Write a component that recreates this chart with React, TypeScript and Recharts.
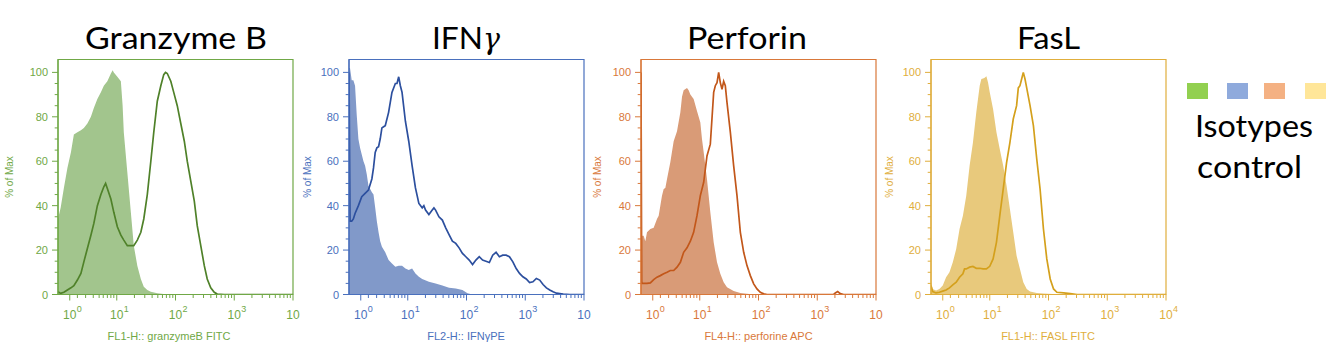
import React from 'react';
import { ComposedChart, Area, Line, XAxis, YAxis, ReferenceArea } from 'recharts';

type Pt = [number, number];

// x = display channel position (0..4, decade positions), y = % of Max
const GZB_ISO: Pt[] = [[0,34],[0.045,39],[0.10,48],[0.16,57],[0.22,64],[0.27,72],[0.33,73],[0.39,74],[0.44,75],[0.50,77],[0.56,80],[0.61,84],[0.67,88],[0.73,91],[0.78,94],[0.84,96],[0.90,99.5],[0.93,101],[0.95,100],[1.01,98],[1.07,96],[1.10,85],[1.12,73],[1.18,55],[1.24,37],[1.29,22],[1.35,13],[1.41,7],[1.46,3.5],[1.52,2],[1.58,1.2],[1.69,0.6],[1.80,0.2],[1.92,0],[4,0]];
const GZB_STAIN: Pt[] = [[0,1.2],[0.045,0.5],[0.10,1],[0.16,2],[0.22,3],[0.27,4],[0.33,6.5],[0.39,9.5],[0.44,14.7],[0.50,20.7],[0.56,26.7],[0.61,32],[0.67,40],[0.73,45],[0.78,48.5],[0.81,50],[0.84,47.7],[0.90,43],[0.95,37],[1.01,30.5],[1.07,26.7],[1.12,24.5],[1.18,22],[1.24,22],[1.29,22],[1.35,24.5],[1.41,28],[1.46,34],[1.52,45],[1.58,60],[1.63,73],[1.69,87],[1.75,94],[1.80,99],[1.83,100],[1.86,99.5],[1.92,96],[1.97,91],[2.03,85],[2.09,77],[2.15,69],[2.20,60],[2.26,51],[2.32,42],[2.37,31],[2.43,22],[2.49,13],[2.54,7],[2.60,3],[2.66,1],[2.71,0.2],[2.83,0],[4,0]];

const IFN_ISO: Pt[] = [[0,102],[0.017,102],[0.046,96.5],[0.074,96.5],[0.103,94],[0.131,81],[0.16,70],[0.189,66],[0.217,63],[0.246,60],[0.274,58],[0.303,54],[0.331,49],[0.389,46],[0.417,45],[0.446,39],[0.474,33],[0.503,28],[0.531,24],[0.56,21.5],[0.617,19],[0.674,15.5],[0.731,14],[0.789,12.5],[0.846,13],[0.903,13],[0.96,11.7],[1.017,11],[1.074,11.7],[1.131,9.5],[1.189,8],[1.246,7],[1.36,5.7],[1.474,5],[1.589,4],[1.703,3],[1.817,2.7],[1.931,2],[2.017,0.6],[2.103,0],[4,0]];
const IFN_STAIN: Pt[] = [[0,100],[0.017,33],[0.046,33],[0.074,34],[0.103,36.5],[0.16,40],[0.217,44],[0.274,45.5],[0.331,47],[0.389,52],[0.417,57],[0.446,64],[0.474,66],[0.503,66.5],[0.531,70],[0.56,75],[0.589,75.5],[0.617,76],[0.674,82],[0.731,91],[0.789,95],[0.817,95],[0.846,98],[0.874,94],[0.903,91],[0.96,78],[1.017,69],[1.074,58],[1.131,48],[1.189,41],[1.246,39],[1.274,40],[1.303,38],[1.36,36],[1.417,38],[1.446,39],[1.474,38],[1.531,35],[1.589,33.5],[1.646,30],[1.703,27],[1.76,24],[1.817,23],[1.874,21],[1.931,18.5],[1.989,17],[2.046,15.5],[2.103,13.5],[2.16,15.5],[2.217,17],[2.274,15.5],[2.331,15],[2.389,14.4],[2.446,17.7],[2.503,19],[2.56,17],[2.617,17.7],[2.674,17.7],[2.731,17],[2.789,14.7],[2.846,11.7],[2.903,9.5],[2.96,8],[3.017,7],[3.074,5.4],[3.131,5.7],[3.189,7.2],[3.246,6.5],[3.303,4.5],[3.36,3],[3.417,2],[3.474,1.2],[3.531,0.6],[3.646,0.15],[3.76,0],[4,0]];

const PRF_ISO: Pt[] = [[0,102],[0.012,30],[0.017,26.5],[0.045,26.5],[0.074,24],[0.102,28],[0.159,29.5],[0.216,30],[0.272,34],[0.301,35.5],[0.329,40],[0.357,44.5],[0.386,47.5],[0.414,48],[0.443,52],[0.499,59.5],[0.556,69],[0.613,73.5],[0.670,82],[0.698,89],[0.726,92],[0.783,93],[0.811,92],[0.840,90],[0.896,88],[0.953,82.6],[1.010,77.4],[1.038,70],[1.067,64],[1.123,52],[1.180,37],[1.237,23.5],[1.294,14.5],[1.350,9.3],[1.407,5.5],[1.464,3.3],[1.577,1.6],[1.691,0.7],[1.804,0.3],[1.918,0],[4,0]];
const PRF_STAIN: Pt[] = [[0,100],[0.012,6],[0.017,5],[0.045,5],[0.102,5],[0.159,5.2],[0.216,6.7],[0.272,7.8],[0.329,8.5],[0.386,9.3],[0.443,10],[0.499,10.8],[0.556,10.8],[0.613,12.3],[0.670,14.5],[0.726,19],[0.783,21],[0.840,24],[0.896,28],[0.953,35.5],[1.010,44.5],[1.067,50.5],[1.123,62.4],[1.180,67.7],[1.237,91],[1.265,94],[1.294,95.4],[1.322,100],[1.350,95.4],[1.379,92.4],[1.407,96],[1.435,94],[1.464,86.4],[1.521,73],[1.577,58],[1.634,44.5],[1.691,28],[1.748,19],[1.804,13],[1.861,8.5],[1.918,4.8],[1.974,2.5],[2.031,1],[2.088,0.3],[2.145,0],[3.279,0],[3.308,0.7],[3.348,1.3],[3.392,0.4],[3.449,0],[4,0]];

const FASL_ISO: Pt[] = [[0,5.5],[0.029,2.5],[0.086,1.8],[0.143,2.5],[0.2,4],[0.257,7.8],[0.314,10],[0.371,14.5],[0.429,20.5],[0.486,29.5],[0.543,35.5],[0.6,44.5],[0.657,58],[0.714,68.4],[0.771,82],[0.829,94],[0.857,97],[0.886,97.2],[0.914,97.6],[0.943,98.3],[0.971,95.4],[1.0,91],[1.057,83.4],[1.114,73],[1.171,65.4],[1.229,58],[1.286,49],[1.343,38.5],[1.4,28],[1.457,17.5],[1.514,11.5],[1.571,5.5],[1.629,2.5],[1.686,1.3],[1.8,0.7],[1.914,0.4],[2.143,0.15],[2.257,0],[4,0]];
const FASL_STAIN: Pt[] = [[0,4],[0.029,1.3],[0.086,0.7],[0.143,1],[0.2,1.5],[0.257,2],[0.314,3],[0.371,4.3],[0.429,5.5],[0.486,7.8],[0.543,9.3],[0.571,11.5],[0.6,11.5],[0.657,12.3],[0.714,12.6],[0.771,11.8],[0.829,11.8],[0.886,11.5],[0.943,11.5],[1.0,12.7],[1.057,16],[1.114,23.5],[1.171,35.5],[1.229,47.4],[1.286,59.3],[1.343,68.4],[1.4,79],[1.457,85],[1.486,93],[1.514,94],[1.543,97],[1.571,100],[1.6,97],[1.629,93],[1.686,85],[1.743,76],[1.8,61],[1.857,47.4],[1.914,29.5],[1.971,16],[2.029,7],[2.086,2.5],[2.143,1],[2.257,0.7],[2.371,0.4],[2.486,0],[4,0]];

// axis ticks
const X_MAJOR_TICKS = [0.2, 1, 2, 3, 4];
const X_MINOR_FIRST = [0.33, 0.47, 0.6, 0.7, 0.77, 0.84, 0.9, 0.95];
const X_MINOR_LOG = [1, 2, 3].flatMap((d) => [2, 3, 4, 5, 6, 7, 8, 9].map((k) => d + Math.log10(k)));
const X_TICKS = [...X_MAJOR_TICKS, ...X_MINOR_FIRST, ...X_MINOR_LOG].sort((a, b) => a - b);
const X_EXP_CLIPPED = ['0', '1', '2', '3', ''];
const X_EXP_FULL = ['0', '1', '2', '3', '4'];
const Y_MAJOR_TICKS = [0, 20, 40, 60, 80, 100];
const Y_TICKS = [0,5,10,15,20,25,30,35,40,45,50,55,60,65,70,75,80,85,90,95,100];
const Y_MAX = 105.8;

const LEGEND_COLORS = ['#92d050', '#8faadc', '#f4b183', '#ffe699'];

const PANELS = [
  { title: 'Granzyme B', iso: GZB_ISO, stain: GZB_STAIN, xTitle: 'FL1-H:: granzymeB FITC', left: 57.5, fill: '#a2c58d', line: '#4f8129', axis: '#70a846', exps: X_EXP_CLIPPED, xTitleC: 169, yLabX: 9 },
  { title: 'IFN', iso: IFN_ISO, stain: IFN_STAIN, xTitle: 'FL2-H:: IFNγPE', left: 348.5, fill: '#8199c9', line: '#2c4f9e', axis: '#4a70bd', exps: X_EXP_CLIPPED, xTitleC: 466, yLabX: 307.5 },
  { title: 'Perforin', iso: PRF_ISO, stain: PRF_STAIN, xTitle: 'FL4-H:: perforine APC', left: 640.5, fill: '#d99b77', line: '#c2571a', axis: '#d9783a', exps: X_EXP_CLIPPED, xTitleC: 758.5, yLabX: 597.5 },
  { title: 'FasL', iso: FASL_ISO, stain: FASL_STAIN, xTitle: 'FL1-H:: FASL FITC', left: 931, fill: '#e8c97c', line: '#d4a01c', axis: '#e0ae3c', exps: X_EXP_FULL, xTitleC: 1048, yLabX: 889 },
];

const TICK_FONT = "'Liberation Sans', Arial, sans-serif";
const TITLE_FONT = "Lato, 'Open Sans', sans-serif";

const BOX_TOP = 59.5;
const BOX = 235;
const YW = 55;
const CW = 315;
const CH = 351;
const XH = 40;

function Panel({ p }: { p: any }) {
  const isoData = p.iso.map(([x, y]: Pt) => ({ x, y }));
  const stainData = p.stain.map(([x, y]: Pt) => ({ x, y }));
  const xTick = (props: any) => {
    const { x, y, payload } = props;
    const mi = X_MAJOR_TICKS.indexOf(payload.value);
    if (mi < 0) {
      return <line x1={x} x2={x} y1={y} y2={y + 3.5} stroke={p.axis} strokeWidth={1} />;
    }
    return (
      <g>
        <line x1={x} x2={x} y1={y} y2={y + 6} stroke={p.axis} strokeWidth={1} />
        <text x={x} y={y + 24} textAnchor="middle" fontSize={12} fontFamily={TICK_FONT} fill={p.axis}>10</text>
        {p.exps[mi] ? (
          <text x={x + 7} y={y + 17} fontSize={9} fontFamily={TICK_FONT} fill={p.axis}>{p.exps[mi]}</text>
        ) : null}
      </g>
    );
  };
  const yTick = (props: any) => {
    const { x, y, payload } = props;
    const major = Y_MAJOR_TICKS.indexOf(payload.value) >= 0;
    return (
      <g>
        <line x1={x} x2={x - (major ? 6 : 3.3)} y1={y} y2={y} stroke={p.axis} strokeWidth={1} />
        {major ? (
          <text x={x - 10} y={y + 4} textAnchor="end" fontSize={11} fontFamily={TICK_FONT} fill={p.axis}>{payload.value}</text>
        ) : null}
      </g>
    );
  };
  return (
    <div style={{ position: 'absolute', left: p.left - YW, top: 0, width: CW, height: CH }}>
      <ComposedChart
        width={CW}
        height={CH}
        margin={{ top: BOX_TOP, right: CW - YW - BOX, bottom: CH - BOX_TOP - BOX - XH, left: 0 }}
      >
        <XAxis
          type="number"
          dataKey="x"
          domain={[0, 4]}
          ticks={X_TICKS}
          interval={0}
          tickSize={0}
          tickMargin={0}
          tickLine={false}
          axisLine={{ stroke: p.axis, strokeWidth: 1.2 }}
          height={XH}
          tick={xTick}
          allowDataOverflow
        />
        <YAxis
          type="number"
          domain={[0, Y_MAX]}
          ticks={Y_TICKS}
          interval={0}
          width={YW}
          tickSize={0}
          tickMargin={0}
          tickLine={false}
          axisLine={{ stroke: p.axis, strokeWidth: 1.2 }}
          tick={yTick}
          allowDataOverflow
        />
        <Area data={isoData} dataKey="y" type="linear" fill={p.fill} fillOpacity={1} stroke="none" isAnimationActive={false} />
        <Line data={stainData} dataKey="y" type="linear" stroke={p.line} strokeWidth={1.7} dot={false} isAnimationActive={false} />
        <ReferenceArea x1={0} x2={4} y1={0} y2={Y_MAX} fill="none" stroke={p.axis} strokeWidth={1.2} ifOverflow="visible" />
      </ComposedChart>
    </div>
  );
}

export default function App() {
  return (
    <div style={{ position: 'absolute', left: 0, top: 0, width: 1338, height: 351, background: '#fff', overflow: 'hidden' }}>
      {PANELS.map((p, i) => (
        <Panel key={i} p={p} />
      ))}
      <svg width={1338} height={351} style={{ position: 'absolute', left: 0, top: 0, pointerEvents: 'none' }}>
        {/* titles */}
        <text x={85} y={49} fontSize={31} fontFamily={TITLE_FONT} fill="#000" textLength={182} lengthAdjust="spacingAndGlyphs">Granzyme B</text>
        <text x={432} y={49} fontSize={31} fontFamily={TITLE_FONT} fill="#000" textLength={51} lengthAdjust="spacingAndGlyphs">IFN</text>
        <text x={483} y={49} fontSize={30} fontFamily="'DejaVu Serif', serif" fontStyle="italic" fill="#000" textLength={17} lengthAdjust="spacingAndGlyphs">γ</text>
        <text x={687} y={49} fontSize={31} fontFamily={TITLE_FONT} fill="#000" textLength={120} lengthAdjust="spacingAndGlyphs">Perforin</text>
        <text x={1017} y={49} fontSize={31} fontFamily={TITLE_FONT} fill="#000" textLength={63} lengthAdjust="spacingAndGlyphs">FasL</text>
        {/* axis titles */}
        {PANELS.map((p, i) => (
          <g key={i}>
            <text x={p.xTitleC} y={340} textAnchor="middle" fontSize={11} fontFamily={TICK_FONT} fill={p.axis}>{p.xTitle}</text>
            <text x={p.yLabX} y={177} textAnchor="middle" dominantBaseline="central" fontSize={10} fontFamily={TICK_FONT} fill={p.axis} transform={`rotate(-90 ${p.yLabX} 177)`}>% of Max</text>
          </g>
        ))}
        {/* legend */}
        {LEGEND_COLORS.map((c, i) => (
          <rect key={i} x={[1187, 1227, 1264, 1305][i]} y={83} width={21} height={16} fill={c} />
        ))}
        <text x={1195} y={137} fontSize={31} fontFamily={TITLE_FONT} fill="#000" textLength={118} lengthAdjust="spacingAndGlyphs">Isotypes</text>
        <text x={1197} y={178} fontSize={31} fontFamily={TITLE_FONT} fill="#000" textLength={105} lengthAdjust="spacingAndGlyphs">control</text>
      </svg>
    </div>
  );
}
